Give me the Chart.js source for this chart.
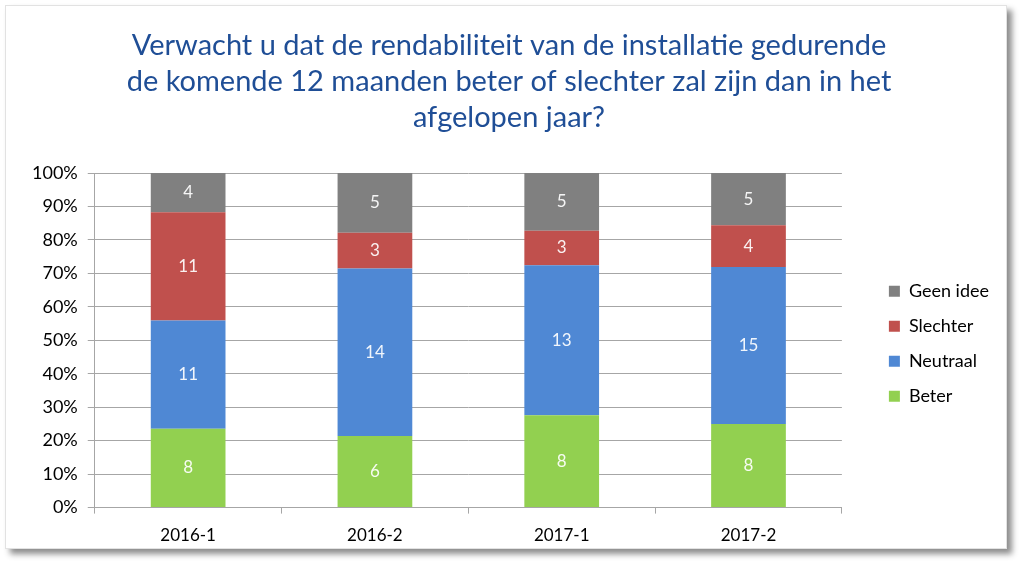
<!DOCTYPE html>
<html>
<head>
<meta charset="utf-8">
<script src="https://cdn.jsdelivr.net/npm/chart.js@4.4.0/dist/chart.umd.min.js"></script>
<style>
    html, body { margin: 0; padding: 0; background: #ffffff; }
    #frame {
        position: absolute;
        left: 5px;
        top: 5px;
        width: 1002px;
        height: 544px;
        background: #ffffff;
        border: 1px solid #e2e2e2;
        box-sizing: border-box;
        box-shadow: 5px 5px 6px rgba(0, 0, 0, 0.45);
    }
</style>
</head>
<body>
<div id="frame"><canvas id="chartCanvas"></canvas></div>
<script>
// Data (counts per period, shown as 100% stacked bars)
const periods = ['2016-1', '2016-2', '2017-1', '2017-2'];
const beter = [8, 6, 8, 8];
const neutraal = [11, 14, 13, 15];
const slechter = [11, 3, 3, 4];
const geenIdee = [4, 5, 5, 5];
const yTicks = [0, 10, 20, 30, 40, 50, 60, 70, 80, 90, 100];

const titleLines = [
    'Verwacht u dat de rendabiliteit van de installatie gedurende',
    'de komende 12 maanden beter of slechter zal zijn dan in het',
    'afgelopen jaar?'
];

const FONT = 'Lato, "Open Sans", sans-serif';

// Totals per period, used to turn counts into percentages
const totals = periods.map((p, i) => beter[i] + neutraal[i] + slechter[i] + geenIdee[i]);
const toPercent = arr => arr.map((v, i) => v / totals[i] * 100);

const series = [
    { label: 'Beter', counts: beter, color: '#92D050' },
    { label: 'Neutraal', counts: neutraal, color: '#4F88D4' },
    { label: 'Slechter', counts: slechter, color: '#C0504D' },
    { label: 'Geen idee', counts: geenIdee, color: '#808080' }
];

// Draw the raw count in the middle of every bar segment
const countLabels = {
    id: 'countLabels',
    afterDatasetsDraw(chart) {
        const ctx = chart.ctx;
        ctx.save();
        ctx.font = '17px ' + FONT;
        ctx.fillStyle = 'rgba(255, 255, 255, 0.92)';
        ctx.textAlign = 'center';
        ctx.textBaseline = 'middle';
        chart.data.datasets.forEach((ds, di) => {
            chart.getDatasetMeta(di).data.forEach((bar, i) => {
                const mid = (bar.y + bar.base) / 2;
                ctx.fillText(String(series[di].counts[i]), bar.x, mid);
            });
        });
        ctx.restore();
    }
};

// Legend: a bit wider than needed, items moved right and centred on the plot
const legendPlace = {
    id: 'legendPlace',
    beforeInit(chart) {
        const fit = chart.legend.fit;
        chart.legend.fit = function () {
            fit.bind(chart.legend)();
            this.width += 27;
        };
    },
    afterLayout(chart) {
        const lg = chart.legend;
        const pad = lg.options.labels.padding;
        const area = chart.chartArea;
        const target = (area.top + area.bottom) / 2 + 12;
        const dy = target - (lg.top + lg.bottom + pad) / 2;
        lg.top += dy;
        lg.bottom += dy;
        lg.left += 30;
        lg.right += 30;
    }
};

const chart = new Chart(document.getElementById('chartCanvas').getContext('2d'), {
    type: 'bar',
    data: {
        labels: periods,
        datasets: series.map(s => ({
            label: s.label,
            data: toPercent(s.counts),
            backgroundColor: s.color,
            borderWidth: 0,
            barPercentage: 0.8,
            categoryPercentage: 0.5
        }))
    },
    options: {
        responsive: true,
        maintainAspectRatio: false,
        animation: false,
        layout: { padding: { left: 16, right: 10, top: 0, bottom: -10 } },
        plugins: {
            title: {
                display: true,
                text: titleLines,
                color: '#1F4E96',
                font: { family: FONT, size: 29, weight: 'normal', lineHeight: 1.23 },
                padding: { top: 22, bottom: 38 }
            },
            legend: {
                position: 'right',
                reverse: true,
                labels: {
                    color: '#000000',
                    font: { family: FONT, size: 18 },
                    boxWidth: 11,
                    boxHeight: 11,
                    padding: 17
                }
            },
            tooltip: { enabled: false }
        },
        scales: {
            x: {
                stacked: true,
                grid: {
                    offset: true,
                    drawOnChartArea: false,
                    drawTicks: true,
                    tickLength: 6,
                    color: '#A6A6A6'
                },
                border: { color: '#A6A6A6' },
                ticks: { color: '#000000', font: { family: FONT, size: 17 }, padding: 12 }
            },
            y: {
                stacked: true,
                min: 0,
                max: 100,
                afterBuildTicks: axis => { axis.ticks = yTicks.map(v => ({ value: v })); },
                grid: { color: '#A6A6A6', tickLength: 7 },
                border: { color: '#A6A6A6' },
                ticks: {
                    color: '#000000',
                    font: { family: FONT, size: 18 },
                    padding: 10,
                    callback: v => v + '%'
                }
            }
        }
    },
    plugins: [countLabels, legendPlace]
});
</script>
</body>
</html>
